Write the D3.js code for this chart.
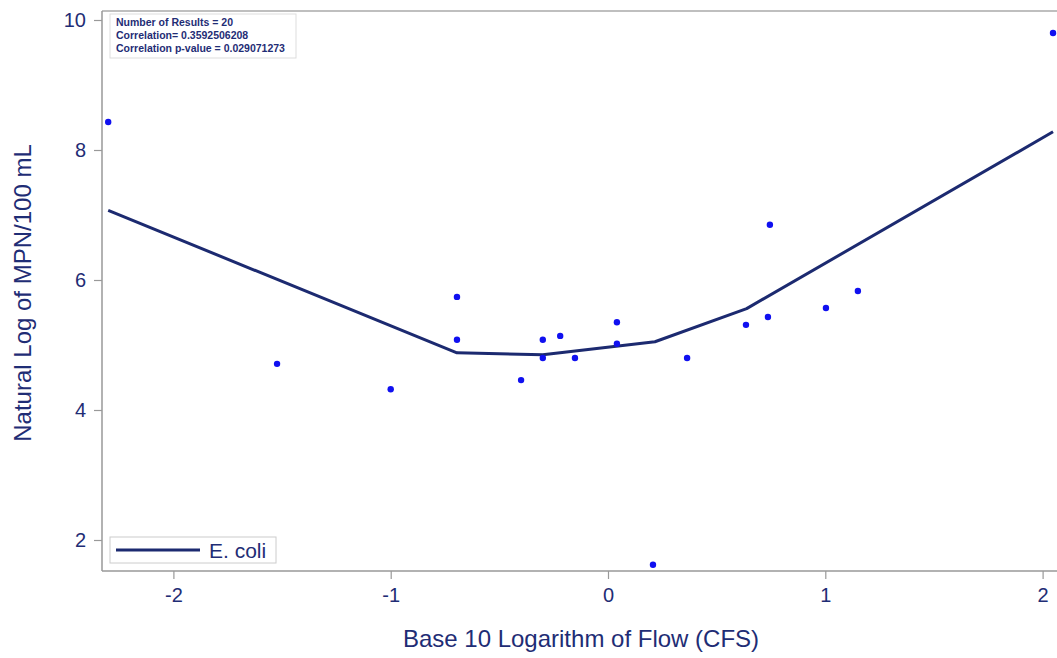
<!DOCTYPE html>
<html><head><meta charset="utf-8">
<script src="https://cdn.jsdelivr.net/npm/d3@7"></script>
<style>body{margin:0;background:#fff}svg{display:block}</style>
</head><body>
<svg id="c" width="1057" height="658"></svg>
<script>
const pointX = [-2.30,-1.523,-1.0,-0.695,-0.695,-0.40,-0.30,-0.30,-0.22,-0.152,0.041,0.041,0.207,0.364,0.635,0.736,0.745,1.003,1.15,2.048];
const pointY = [8.43,4.71,4.32,5.74,5.08,4.46,5.08,4.80,5.14,4.80,5.35,5.02,1.62,4.80,5.31,5.43,6.85,5.57,5.83,9.80];
const lineX = [-2.30,-0.695,-0.30,0.216,0.638,2.048];
const lineY = [7.07,4.88,4.85,5.05,5.56,8.28];
const xTicks = [-2,-1,0,1,2];
const yTicks = [2,4,6,8,10];
const statLines = ["Number of Results = 20","Correlation= 0.3592506208","Correlation p-value = 0.029071273"];
const legendLabel = "E. coli";

const svg = d3.select("#c");
const x = d3.scaleLinear().domain([0,1]).range([608,825.3]);
const y = d3.scaleLinear().domain([10,8]).range([20,150]);
const pLeft = 102, pTop = 11, pBottom = 571, pRight = 1060;
const navy = "#1f2d75";
const font = "Liberation Sans, Arial, sans-serif";

svg.append("line").attr("x1",pLeft).attr("x2",pRight).attr("y1",pTop).attr("y2",pTop).attr("stroke","#aaa").attr("stroke-width",1.5);

const yAxis = svg.append("g").attr("transform",`translate(${pLeft},0)`)
  .call(d3.axisLeft(y).tickValues(yTicks).tickSize(8).tickPadding(8).tickFormat(d=>String(d)));
const xAxis = svg.append("g").attr("transform",`translate(0,${pBottom})`)
  .call(d3.axisBottom(x).tickValues(xTicks).tickSize(8).tickPadding(9).tickFormat(d=>String(d)));
[yAxis,xAxis].forEach(g=>{
  g.select(".domain").attr("stroke","#999").attr("stroke-width",1.5);
  g.selectAll(".tick line").attr("stroke","#999").attr("stroke-width",1.2);
  g.selectAll(".tick text").attr("fill",navy).attr("font-family",font).attr("font-size",20);
});
yAxis.select(".domain").attr("d",`M0,${pTop}V${pBottom}`);
xAxis.select(".domain").attr("d",`M${pLeft},0H${pRight}`);

const lineData = lineX.map((v,i)=>[v,lineY[i]]);
svg.append("path").datum(lineData)
  .attr("d",d3.line().x(d=>x(d[0])).y(d=>y(d[1])))
  .attr("fill","none").attr("stroke","#1c2a70").attr("stroke-width",3).attr("stroke-linejoin","round");

svg.append("g").selectAll("circle").data(pointX.map((v,i)=>[v,pointY[i]])).join("circle")
  .attr("cx",d=>x(d[0])).attr("cy",d=>y(d[1])).attr("r",3.2).attr("fill","#1010f0");

svg.append("rect").attr("x",110).attr("y",14).attr("width",186).attr("height",44)
  .attr("fill","#fff").attr("stroke","#ddd").attr("stroke-width",1);
svg.append("g").selectAll("text").data(statLines).join("text")
  .attr("x",116).attr("y",(d,i)=>26+i*13).text(d=>d)
  .attr("fill",navy).attr("font-family",font).attr("font-size",10.5).attr("font-weight","bold");

svg.append("rect").attr("x",110).attr("y",537).attr("width",166).attr("height",26)
  .attr("fill","#fff").attr("stroke","#ccc").attr("stroke-width",1);
svg.append("line").attr("x1",116).attr("x2",200).attr("y1",550).attr("y2",550).attr("stroke","#1c2a70").attr("stroke-width",3);
svg.append("text").attr("x",209).attr("y",558).text(legendLabel)
  .attr("fill",navy).attr("font-family",font).attr("font-size",21);

svg.append("text").attr("x",581).attr("y",647).attr("text-anchor","middle").text("Base 10 Logarithm of Flow (CFS)")
  .attr("fill",navy).attr("font-family",font).attr("font-size",24);
svg.append("text").attr("transform","translate(31,293) rotate(-90)").attr("text-anchor","middle").text("Natural Log of MPN/100 mL")
  .attr("fill",navy).attr("font-family",font).attr("font-size",24);
</script>
</body></html>
